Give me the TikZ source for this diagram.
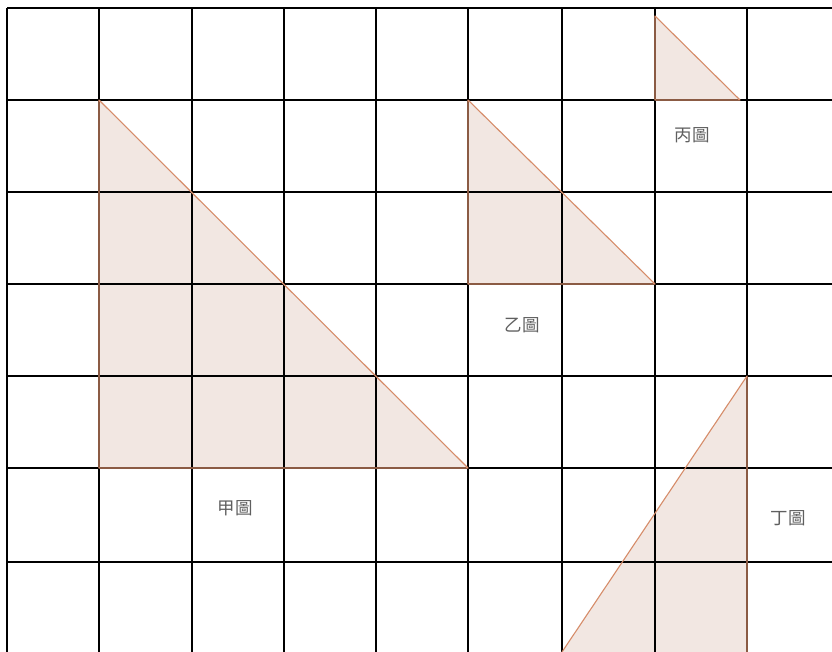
\documentclass[tikz,border=0pt]{standalone}
\usepackage{fontspec}
\newfontfamily\cjk{Noto Sans CJK TC}
\definecolor{trifill}{RGB}{242,231,226}
\definecolor{triedge}{RGB}{214,140,105}
\definecolor{labelgray}{RGB}{95,95,95}
\begin{document}
\begin{tikzpicture}[x=1pt,y=-1pt,
  gridline/.style={black,line width=2pt},
  tri/.style={fill=trifill},
  triline/.style={triedge,line width=1.1pt,line join=round},
  lbl/.style={text=labelgray,font=\cjk\fontsize{17.5}{17.5}\selectfont,inner sep=0pt}]
\useasboundingbox (0,0) rectangle (832,652);
\fill[white] (0,0) rectangle (832,652);
% triangle fills
\fill[tri] (99,100) -- (99,468) -- (468,468) -- cycle;
\fill[tri] (468,100) -- (468,284) -- (655,284) -- cycle;
\fill[tri] (655,16) -- (655,100) -- (740,100) -- cycle;
\fill[tri] (747,376) -- (747,660) -- (562,660) -- (562,652) -- cycle;
% grid
\foreach \x in {7,99,192,284,376,468,562,655,747}
  \draw[gridline] (\x,8) -- (\x,660);
\foreach \y in {8,100,192,284,376,468,562}
  \draw[gridline] (7,\y) -- (840,\y);
% triangle edges
\draw[triline] (99,100) -- (99,468) -- (468,468) -- cycle;
\draw[triline] (468,100) -- (468,284) -- (655,284) -- cycle;
\draw[triline] (655,16) -- (655,100) -- (740,100) -- cycle;
\draw[triline] (747,660) -- (747,376) -- (562,652);
% labels
\node[lbl] (jia) at (235,508) {甲圖};
\node[lbl] (yi) at (522,325) {乙圖};
\node[lbl] (bing) at (692,135) {丙圖};
\node[lbl] (ding) at (788,518) {丁圖};
\end{tikzpicture}
\end{document}
